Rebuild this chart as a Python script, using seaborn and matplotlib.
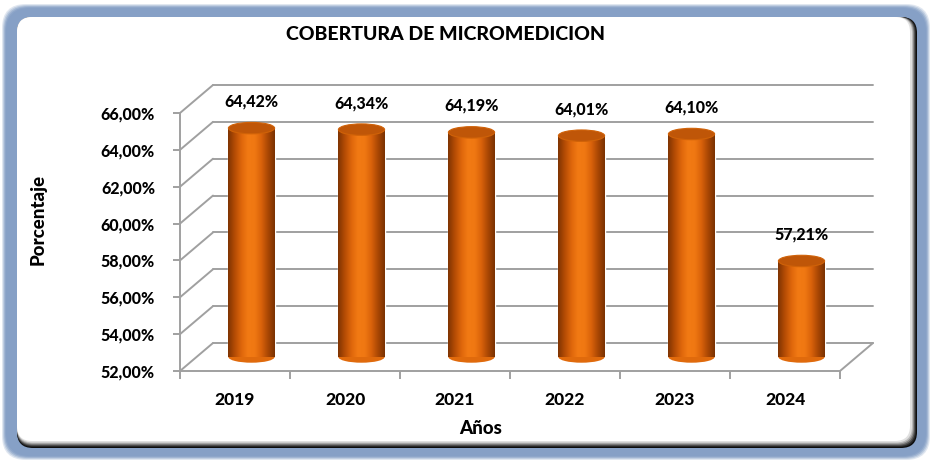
import numpy as np
import pandas as pd
import matplotlib
matplotlib.use("Agg")
import matplotlib.pyplot as plt
import matplotlib.transforms as mtransforms
from matplotlib.patches import Ellipse, FancyBboxPatch
from matplotlib.colors import LinearSegmentedColormap
import seaborn as sns

# ---------------- data ----------------
years = ["2019", "2020", "2021", "2022", "2023", "2024"]
coverage = [64.42, 64.34, 64.19, 64.01, 64.10, 57.21]
y_ticks = [52, 54, 56, 58, 60, 62, 64, 66]
title = "COBERTURA DE MICROMEDICION"
x_label = "Años"
y_label = "Porcentaje"

sns.set_theme(style="white")
FONT = ["Lato", "DejaVu Sans"]
plt.rcParams["font.family"] = FONT
WEIGHT = 900

W, H = 933, 463
DPI = 100
fig = plt.figure(figsize=(W / DPI, H / DPI), dpi=DPI)
fig.patch.set_facecolor("white")

# ---------------- background frame ----------------
bg = fig.add_axes([0, 0, 1, 1], zorder=-10)
bg.set_xlim(0, W)
bg.set_ylim(H, 0)
bg.axis("off")

for k, a in enumerate([0.25, 0.35, 0.5, 0.7, 1.0]):
    g = 4 - k
    bg.add_patch(FancyBboxPatch((6 - g, 8 - g), 920 + 2 * g, 448 + 2 * g,
                                boxstyle="round,pad=0,rounding_size=24",
                                fc="#86a0c6", ec="none", alpha=a))
shades = ["#0d0d0d", "#2a2a2a", "#555555", "#888888", "#b8b8b8", "#e0e0e0"]
for k, c in enumerate(shades):
    bg.add_patch(FancyBboxPatch((17, 17), 900 - k * 1.0, 431 - k * 1.1,
                                boxstyle="round,pad=0,rounding_size=16",
                                fc=c, ec="none"))
bg.add_patch(FancyBboxPatch((17, 17), 893, 424,
                            boxstyle="round,pad=0,rounding_size=15",
                            fc="white", ec="none"))

# ---------------- main (front plane) axes ----------------
x0, x1 = 180, 840
y_top, y_bot = 113, 371
ax = fig.add_axes([x0 / W, (H - y_bot) / H, (x1 - x0) / W, (y_bot - y_top) / H])
ax.set_facecolor("none")

df = pd.DataFrame({"year": years, "coverage": coverage})
sns.barplot(data=df, x="year", y="coverage", ax=ax, color="#e8700e",
            width=0.42, saturation=1, errorbar=None)

ax.set_xlim(-0.5, len(years) - 0.5)
ax.set_ylim(y_ticks[0], y_ticks[-1])

DX, DY = 33, 28  # depth in pixels
back = ax.transData + mtransforms.ScaledTranslation(DX / DPI, DY / DPI, fig.dpi_scale_trans)
mid = ax.transData + mtransforms.ScaledTranslation(DX / 2 / DPI, DY / 2 / DPI, fig.dpi_scale_trans)

GRID = "#a0a0a0"
LW = 1.4
for v in y_ticks:
    ax.plot([-0.5, len(years) - 0.5], [v, v], transform=back, color=GRID,
            lw=LW, clip_on=False, zorder=0.5)
ident = mtransforms.IdentityTransform()
for v in y_ticks:
    p = ax.transData.transform((-0.5, v))
    ax.plot([p[0], p[0] + DX], [p[1], p[1] + DY], transform=ident,
            color=GRID, lw=LW, clip_on=False, zorder=0.5)
p = ax.transData.transform((len(years) - 0.5, y_ticks[0]))
ax.plot([p[0], p[0] + DX], [p[1], p[1] + DY], transform=ident,
        color=GRID, lw=LW, clip_on=False, zorder=0.5)

sns.despine(ax=ax, top=True, right=True)
for s in ["left", "bottom"]:
    ax.spines[s].set_color(GRID)
    ax.spines[s].set_linewidth(LW)
ax.set_yticks(y_ticks)
ax.set_yticklabels([f"{v:.2f}%".replace(".", ",") for v in y_ticks])
ax.set_xticks(range(len(years)))
ax.set_xticklabels(years)
ax.set_xticks(np.arange(-0.5, len(years)), minor=True)
ax.tick_params(axis="y", left=True, length=5, width=LW, color=GRID, pad=13,
               labelsize=11.5, labelcolor="black")
ax.tick_params(axis="x", which="major", length=0, pad=15, labelsize=12.5,
               labelcolor="black")
ax.tick_params(axis="x", which="minor", bottom=True, length=6, width=LW, color=GRID)
for lab in ax.get_yticklabels() + ax.get_xticklabels():
    lab.set_fontweight(WEIGHT)
ax.set_xlabel("")
ax.set_ylabel("")

# ---------------- cylinders ----------------
cmap = LinearSegmentedColormap.from_list(
    "cyl", ["#7e3302", "#b44c05", "#de660b", "#f27a14", "#f07812",
            "#d9620a", "#a84604", "#7a3202"])
grad = np.linspace(0, 1, 256)[None, :]
clipbox = mtransforms.TransformedBbox(
    mtransforms.Bbox([[-0.5, y_ticks[0]], [len(years) - 0.5, 100]]), mid)
ell_h = 0.62
for patch, val in zip(ax.patches, coverage):
    bx = patch.get_x()
    bw = patch.get_width()
    patch.set_transform(mid)
    patch.set_clip_box(clipbox)
    patch.set_zorder(2)
    cx = bx + bw / 2
    ax.add_patch(Ellipse((cx, y_ticks[0]), bw, ell_h, transform=mid,
                         fc="#e06a0c", ec="none", zorder=1.9, clip_on=False))
    im = ax.imshow(grad, cmap=cmap, aspect="auto",
                   extent=(bx, bx + bw, y_ticks[0], val), transform=mid,
                   zorder=2.1, interpolation="bilinear")
    im.set_clip_path(patch)
    ax.add_patch(Ellipse((cx, val), bw, ell_h, transform=mid,
                         fc="#bf5608", ec="#d06208", lw=0.8, zorder=2.2,
                         clip_on=False))
    ax.annotate(f"{val:.2f}%".replace(".", ","), xy=(cx, val), xycoords=mid,
                xytext=(0, 19), textcoords="offset points", ha="center",
                va="center", fontsize=11.5, fontweight=WEIGHT, color="black",
                annotation_clip=False)

ax.set_xlim(-0.5, len(years) - 0.5)
ax.set_ylim(y_ticks[0], y_ticks[-1])

# ---------------- texts ----------------
fig.text(446 / W, 1 - 34 / H, title, ha="center", va="center",
         fontsize=14, fontweight=WEIGHT, color="black")
fig.text(481 / W, 1 - 428 / H, x_label, ha="center", va="center",
         fontsize=13.5, fontweight=WEIGHT, color="black")
fig.text(38 / W, 1 - 219 / H, y_label, ha="center", va="center",
         rotation=90, fontsize=13.5, fontweight=WEIGHT, color="black")

fig.savefig("out.png", dpi=DPI)
